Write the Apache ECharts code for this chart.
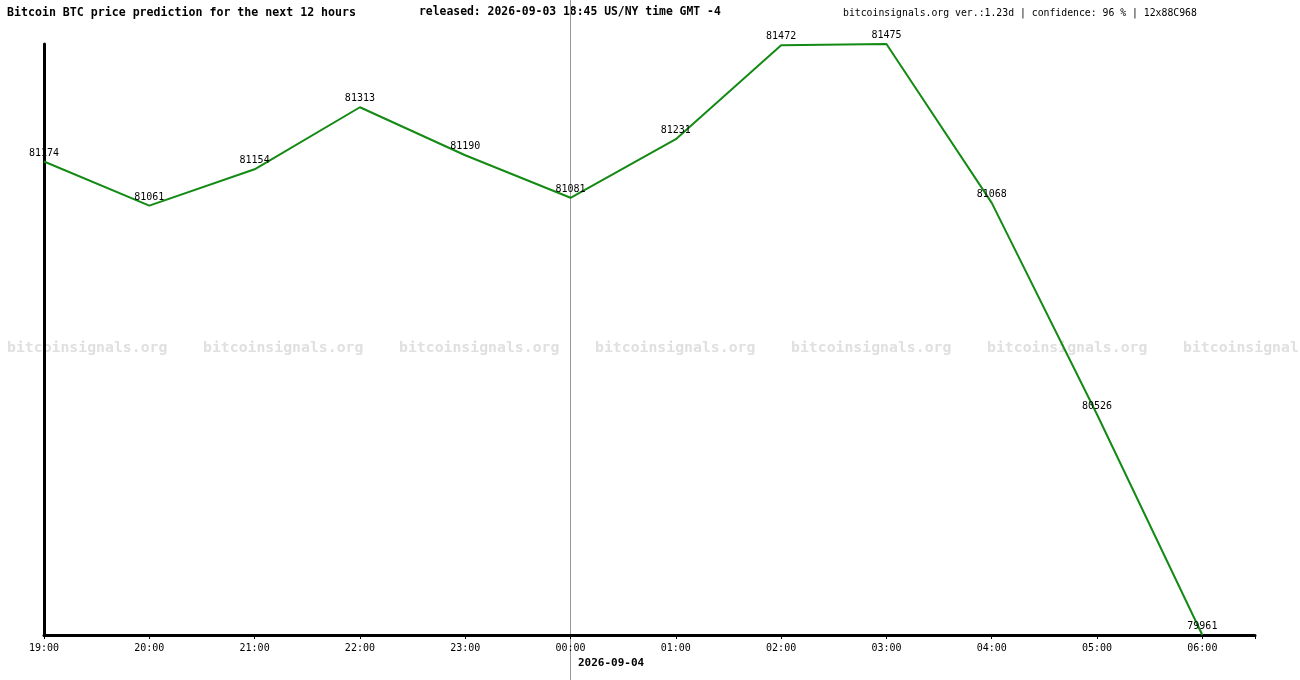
<!DOCTYPE html>
<html><head><meta charset="utf-8">
<script src="https://cdn.jsdelivr.net/npm/echarts@6/dist/echarts.min.js"></script>
<style>html,body{margin:0;padding:0;background:#fff}#c{width:1300px;height:680px}</style>
</head><body><div id="c"></div>
<script>
const categories=['19:00','20:00','21:00','22:00','23:00','00:00','01:00','02:00','03:00','04:00','05:00','06:00'];
const prices=[81174,81061,81154,81313,81190,81081,81231,81472,81475,81068,80526,79961];
const title='Bitcoin BTC price prediction for the next 12 hours';
const released='released: 2026-09-03 18:45 US/NY time GMT -4';
const info='bitcoinsignals.org ver.:1.23d | confidence: 96 % | 12x88C968';
const dateLabel='2026-09-04';
const mono='"DejaVu Sans Mono", "Liberation Mono", monospace';
const chart=echarts.init(document.getElementById('c'));
const wm=[];
for(let i=0;i<7;i++)wm.push({type:'text',left:7+i*196,top:341,style:{text:'bitcoinsignals.org',font:'bold 14.8px '+mono,fill:'#e0e0e0'}});
chart.setOption({
  animation:false,
  graphic:[
    ...wm,
    {type:'text',left:7,top:7,style:{text:title,font:'bold 11.6px '+mono,fill:'#000'}},
    {type:'text',left:419,top:7,style:{text:released,font:'bold 11.4px '+mono,fill:'#000'}},
    {type:'text',left:843,top:8,style:{text:info,font:'9.8px '+mono,fill:'#000'}},
    {type:'line',shape:{x1:570.5,y1:0,x2:570.5,y2:680},style:{stroke:'#999',lineWidth:1}},
    {type:'text',left:578,top:658,style:{text:dateLabel,font:'bold 11px '+mono,fill:'#000'}}
  ],
  grid:{left:44,right:45,top:44,bottom:45},
  xAxis:{type:'value',min:0,max:11.5,interval:1,
    axisLine:{lineStyle:{color:'#000',width:3}},
    axisTick:{show:true,length:4,lineStyle:{color:'#000'}},
    splitLine:{show:false},
    axisLabel:{fontFamily:mono,fontSize:10,color:'#000',margin:8,
      formatter:v=>Number.isInteger(v)&&categories[v]?categories[v]:''}},
  yAxis:{type:'value',min:79961,max:81475,
    axisLine:{show:true,lineStyle:{color:'#000',width:3}},
    axisTick:{show:false},axisLabel:{show:false},splitLine:{show:false}},
  series:[{type:'line',data:prices.map((p,i)=>[i,p]),symbol:'circle',symbolSize:1,showSymbol:true,
    itemStyle:{color:'rgba(0,0,0,0)'},
    lineStyle:{color:'#138a13',width:2},
    label:{show:true,position:'top',distance:3,fontFamily:mono,fontSize:10,color:'#000',
      formatter:p=>String(p.value[1])},
    labelLayout:{hideOverlap:false}}]
});
</script></body></html>
